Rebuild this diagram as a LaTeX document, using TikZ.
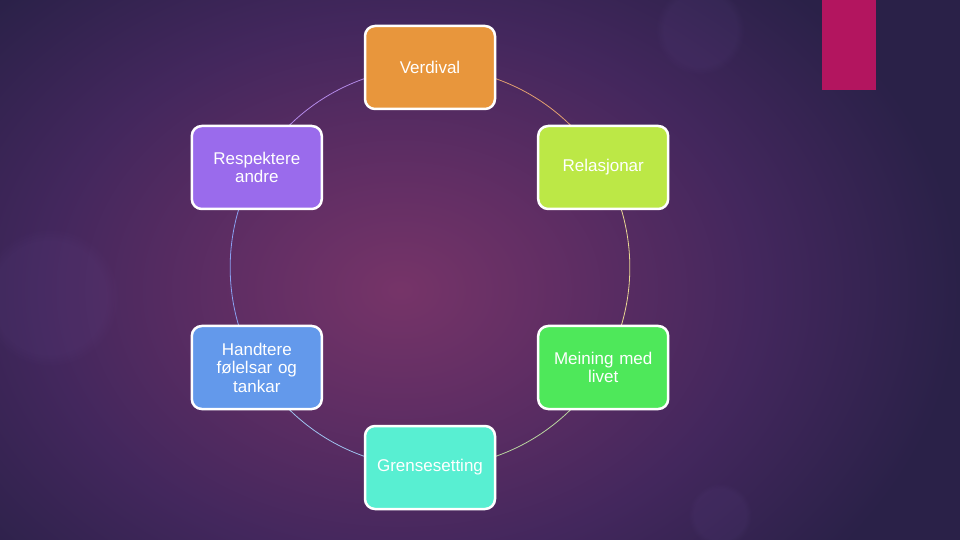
\documentclass[tikz,border=0pt]{standalone}
\usepackage{fontspec}
\setmainfont{Liberation Sans}
\usetikzlibrary{backgrounds,fadings}

\definecolor{bgdark}{HTML}{2A2148}
\definecolor{glowin}{HTML}{763468}
\definecolor{glowmid}{HTML}{612E64}
\definecolor{glowout}{HTML}{43275D}
\definecolor{blobcol}{HTML}{7A60B0}
\definecolor{tabpink}{HTML}{B3155F}

\definecolor{verdivalcol}{HTML}{E8963C}
\definecolor{relasjonarcol}{HTML}{BCE846}
\definecolor{meiningcol}{HTML}{4EE85A}
\definecolor{grensecol}{HTML}{58EFD2}
\definecolor{handterecol}{HTML}{6399EB}
\definecolor{respektcol}{HTML}{9A6BEC}

\pgfdeclareradialshading{glow}{\pgfpoint{0bp}{0bp}}{color(0bp)=(glowin); color(5.6bp)=(glowmid); color(12.8bp)=(glowout); color(20bp)=(bgdark); color(50bp)=(bgdark)}

\begin{document}
\begin{tikzpicture}[x=1pt,y=1pt,
  box/.style={rectangle,rounded corners=10,draw=white,line width=2.5,
    minimum width=130,minimum height=83,text width=122,align=center,
    text=white,font=\fontsize{17}{18.5}\selectfont},
  ring/.style={line width=0.8,bend left=30,looseness=0.91},
  blob/.style={fill=blobcol,opacity=0.08,path fading=circle with fuzzy edge 20 percent}]
\useasboundingbox (-430,-272.5) rectangle (530,267.5);

% background
\begin{scope}[on background layer]
\clip (-430,-272.5) rectangle (530,267.5);
\fill[shading=glow] (-30,-22.5) ellipse [x radius=700,y radius=525];
\fill[blob] (270,237.5) circle (45);
\fill[blob] (290,-247.5) circle (32);
\fill[blob] (-380,-30) circle (70);
\end{scope}
\fill[tabpink] (392,267.5) rectangle (446,177.5);

% boxes on the ring
\node[box,fill=verdivalcol] (verdival) at (90:200) {Verdival};
\node[box,fill=relasjonarcol] (relasjonar) at (30:200) {Relasjonar};
\node[box,fill=meiningcol] (meining) at (-30:200) {Meining med\\ livet};
\node[box,fill=grensecol] (grense) at (-90:200) {Grensesetting};
\node[box,fill=handterecol] (handtere) at (210:200) {Handtere\\ følelsar og\\ tankar};
\node[box,fill=respektcol] (respekt) at (150:200) {Respektere\\ andre};

% ring
\begin{scope}[on background layer]
\draw[ring,draw={rgb,255:red,226;green,160;blue,112}] (verdival.center) to (relasjonar.center);
\draw[ring,draw={rgb,255:red,232;green,214;blue,146}] (relasjonar.center) to (meining.center);
\draw[ring,draw={rgb,255:red,186;green,214;blue,160}] (meining.center) to (grense.center);
\draw[ring,draw={rgb,255:red,160;green,196;blue,240}] (grense.center) to (handtere.center);
\draw[ring,draw={rgb,255:red,138;green,160;blue,240}] (handtere.center) to (respekt.center);
\draw[ring,draw={rgb,255:red,180;green,138;blue,232}] (respekt.center) to (verdival.center);
\end{scope}
\end{tikzpicture}
\end{document}
